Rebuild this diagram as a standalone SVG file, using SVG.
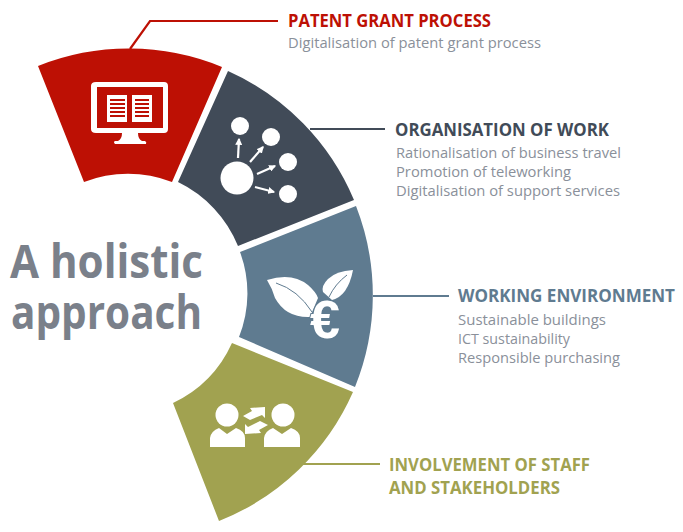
<svg xmlns="http://www.w3.org/2000/svg" width="683" height="532" viewBox="0 0 683 532">
<style>
text{font-family:"Open Sans","Noto Sans","Liberation Sans",sans-serif}
.h{font-size:17px;font-weight:700}
.b{font-size:15px;fill:#8a909a}
.t{font-size:46px;font-weight:700;fill:#7a808a}
.w{fill:#fff}
.l{fill:none;stroke-width:2.2}
.a{fill:none;stroke:#fff;stroke-width:2.2}
</style>
<defs>
<marker id="ah" viewBox="0 0 6 6" refX="5" refY="3" markerWidth="3.2" markerHeight="3.2" orient="auto"><path d="M0 0L6 3L0 6Z" fill="#fff"/></marker>
</defs>
<rect width="683" height="532" fill="#fff"/>
<g id="connectors">
<path class="l" stroke="#bd1004" d="M130 49L150 21H278"/>
<path class="l" stroke="#414b58" d="M310 129H385"/>
<path class="l" stroke="#5f7b90" d="M373 296H449"/>
<path class="l" stroke="#a1a250" d="M303 464H380"/>
</g>
<g id="node-patent">
<path fill="#bd1004" d="M38 66A245 245 0 0 1 222 67L172 182A122 122 0 0 0 84 182Z"/>
<path class="w" fill-rule="evenodd" d="M96 82H164Q168 82 168 86V129Q168 133 164 133H96Q91 133 91 129V86Q91 82 96 82ZM97 87V128H163V87Z"/>
<path class="w" d="M122 133H138Q138 139 142 141H145Q147 142 146 144H115Q113 142 115 141H118Q122 139 122 133Z"/>
<path class="w" fill-rule="evenodd" d="M107 95H127V122H107ZM110 99V101H125V99ZM110 103V105H125V103ZM110 107V109H125V107ZM110 111V113H125V111ZM110 115V117H125V115ZM132 95H152V122H132ZM135 99V101H149V99ZM135 103V105H149V103ZM135 107V109H149V107ZM135 111V113H149V111ZM135 115V117H149V115Z"/>
</g>
<g id="node-work">
<path fill="#414b58" d="M228 71A245 245 0 0 1 354 200L238 246A122 122 0 0 0 178 182Z"/>
<circle class="w" cx="240" cy="126" r="9"/><circle class="w" cx="271" cy="137" r="9"/><circle class="w" cx="288" cy="162" r="9"/><circle class="w" cx="288" cy="194" r="9"/><circle class="w" cx="237" cy="178" r="16.500"/>
<path class="a" marker-end="url(#ah)" d="M238 158L239 139"/>
<path class="a" marker-end="url(#ah)" d="M250 162L263 147"/>
<path class="a" marker-end="url(#ah)" d="M257 174L275 166"/>
<path class="a" marker-end="url(#ah)" d="M255 187L274 192"/>
</g>
<g id="node-environment">
<path fill="#5f7b90" d="M356 206A245 245 0 0 1 355 387L239 337A118 118 0 0 0 240 252Z"/>
<path class="w" d="M267 280Q292 272 308 285Q316 292 318 298L310 317Q286 318 275 298Q272 288 267 280Z"/>
<path fill="none" stroke="#5f7b90" stroke-width="1" d="M276 283Q298 290 312 312"/>
<path class="w" d="M353 270Q336 271 328 279Q321 286 323 292L332 300Q348 296 353 270Z"/>
<path fill="none" stroke="#5f7b90" stroke-width="1" d="M347 275Q335 284 329 297"/>
<text x="310" y="338" font-size="54" font-weight="700" fill="#fff" stroke="#5f7b90" stroke-width="2" paint-order="stroke" style="font-family:'Liberation Sans',sans-serif">€</text>
</g>
<g id="node-involvement">
<path fill="#a1a250" d="M353 392A245 245 0 0 1 219 521L173 403A122 122 0 0 0 232 343Z"/>
<circle class="w" cx="227" cy="415" r="11.500"/><circle class="w" cx="283" cy="415" r="11.500"/>
<path class="w" d="M210 447V438Q211 431 219 428L227 434L236 428Q245 431 245 438V447Z"/>
<path class="w" d="M264 447V438Q265 431 273 428L282 434L291 428Q300 431 300 438V447Z"/>
<path class="w" d="M243 416L252 411L250 408L265 407V418L262 415L250 420Z"/>
<path class="w" d="M268 425L259 430L261 433L245 434V424L248 427L260 421Z"/>
</g>
<g id="title">
<text class="t" x="10" y="278" textLength="193" lengthAdjust="spacingAndGlyphs">A holistic</text>
<text class="t" x="11" y="329" textLength="191" lengthAdjust="spacingAndGlyphs">approach</text>
</g>
<g id="labels">
<text class="h" x="288" y="27" fill="#bd1004" textLength="203" lengthAdjust="spacingAndGlyphs">PATENT GRANT PROCESS</text>
<text class="b" x="288" y="48" textLength="253" lengthAdjust="spacingAndGlyphs">Digitalisation of patent grant process</text>
<text class="h" x="395" y="136" fill="#414b58" textLength="214" lengthAdjust="spacingAndGlyphs">ORGANISATION OF WORK</text>
<text class="b" x="396" y="158" textLength="225" lengthAdjust="spacingAndGlyphs">Rationalisation of business travel</text>
<text class="b" x="396" y="177" textLength="175" lengthAdjust="spacingAndGlyphs">Promotion of teleworking</text>
<text class="b" x="396" y="196" textLength="224" lengthAdjust="spacingAndGlyphs">Digitalisation of support services</text>
<text class="h" x="458" y="302" fill="#5f7b90" textLength="217" lengthAdjust="spacingAndGlyphs">WORKING ENVIRONMENT</text>
<text class="b" x="458" y="325" textLength="148" lengthAdjust="spacingAndGlyphs">Sustainable buildings</text>
<text class="b" x="458" y="344" textLength="112" lengthAdjust="spacingAndGlyphs">ICT sustainability</text>
<text class="b" x="458" y="363" textLength="162" lengthAdjust="spacingAndGlyphs">Responsible purchasing</text>
<text class="h" x="389" y="471" fill="#a1a250" textLength="201" lengthAdjust="spacingAndGlyphs">INVOLVEMENT OF STAFF</text>
<text class="h" x="389" y="494" fill="#a1a250" textLength="171" lengthAdjust="spacingAndGlyphs">AND STAKEHOLDERS</text>
</g>
</svg>
